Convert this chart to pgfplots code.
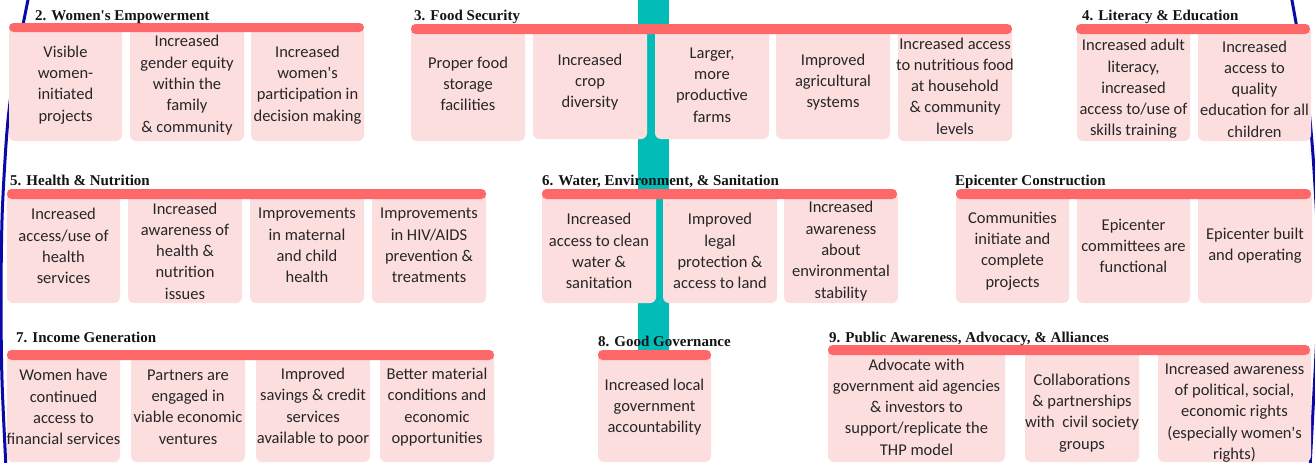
\documentclass[border=0pt]{standalone}
\usepackage{fontspec}
\setmainfont{Carlito}[Ligatures=TeXOff]
\newfontfamily\titlefont{Liberation Serif}[Ligatures=TeXOff]
\usepackage{pgfplots}
\pgfplotsset{compat=1.18}
\definecolor{boxc}{HTML}{FDDEDF}
\definecolor{barc}{HTML}{FF6868}
\definecolor{tealc}{HTML}{02BDB7}
\definecolor{bluec}{HTML}{0A0AA8}
\definecolor{textc}{HTML}{262626}
\definecolor{titlec}{HTML}{141414}
\tikzset{
  body/.style={align=center, inner sep=0pt, text=textc, font=\fontsize{16.5}{21.3}\selectfont},
  ttl/.style={anchor=base west, inner sep=0pt, text=titlec, font=\titlefont\bfseries\fontsize{15}{18}\selectfont},
}
% box: x1, x2, ytop, ybottom
\newcommand{\bx}[4]{\fill[boxc, rounded corners=6pt] (axis cs:#1,#3) rectangle (axis cs:#2,#4);}
\newcommand{\br}[4]{\fill[barc, rounded corners=4.5pt] (axis cs:#1,#3) rectangle (axis cs:#2,#4);}
\begin{document}
\begin{tikzpicture}
\begin{axis}[
  scale only axis, width=1315pt, height=463pt,
  xmin=0, xmax=1315, ymin=0, ymax=463, y dir=reverse,
  axis lines=none, clip=true,
]
% teal spine
\fill[tealc] (axis cs:638,0) rectangle (axis cs:669,352);
% blue outline arcs
\addplot[bluec, line width=3pt, smooth] coordinates {(29,-5) (20,40) (13,80) (8,120) (5,160) (2,220) (1,300) (2,380) (6,468)};
\addplot[bluec, line width=3pt, smooth] coordinates {(1291,-5) (1299,40) (1305,80) (1310,120) (1314,170) (1318,250) (1317,330) (1313,410) (1310,468)};

% ---- Group 2
\bx{9}{122}{26}{141}\bx{130}{244}{26}{141}\bx{251}{364}{26}{141}
\br{9}{364}{23}{32}
\node[ttl] at (axis cs:35,20) {2. Women's Empowerment};
\node[body] at (axis cs:65.5,85) {Visible\\women-\\initiated\\projects};
\node[body] at (axis cs:187,85) {Increased\\gender equity\\within the\\family\\\& community};
\node[body] at (axis cs:307.5,85) {Increased\\women's\\participation in\\decision making};

% ---- Group 3
\bx{411}{525}{27}{141}\bx{533}{647}{27}{139}\bx{655}{769}{27}{139}\bx{776}{890}{27}{139}\bx{898}{1012}{27}{141}
\br{411}{1012}{24}{34}
\node[ttl] at (axis cs:414,20) {3. Food Security};
\node[body] at (axis cs:468,84) {Proper food\\storage\\facilities};
\node[body] at (axis cs:590,82) {Increased\\crop\\diversity};
\node[body] at (axis cs:712,85) {Larger,\\more\\productive\\farms};
\node[body] at (axis cs:833,82) {Improved\\agricultural\\systems};
\node[body] at (axis cs:955,86) {Increased access\\to nutritious food\\at household\\\& community\\levels};

% ---- Group 4
\bx{1077}{1190}{27}{141}\bx{1198}{1311}{27}{141}
\br{1076}{1310}{24}{34}
\node[ttl] at (axis cs:1082,20) {4. Literacy \& Education};
\node[body] at (axis cs:1133.5,89) {Increased adult\\literacy,\\increased\\access to/use of\\skills training};
\node[body] at (axis cs:1254.5,89) {Increased\\access to\\quality\\education for all\\children};

% ---- Group 5
\bx{7}{120}{192}{303}\bx{128}{242}{192}{303}\bx{250}{364}{192}{303}\bx{372}{486}{192}{303}
\br{7}{486}{189}{199}
\node[ttl] at (axis cs:10,185) {5. Health \& Nutrition};
\node[body] at (axis cs:63.5,246) {Increased\\access/use of\\health\\services};
\node[body] at (axis cs:185,251) {Increased\\awareness of\\health \&\\nutrition\\issues};
\node[body] at (axis cs:307,245.5) {Improvements\\in maternal\\and child\\health};
\node[body] at (axis cs:429,245.5) {Improvements\\in HIV/AIDS\\prevention \&\\treatments};

% ---- Group 6
\bx{542}{656}{192}{303}\bx{663}{777}{192}{303}\bx{784}{898}{192}{303}
\br{542}{897}{189}{199}
\node[ttl] at (axis cs:542,185) {6. Water, Environment, \& Sanitation};
\node[body] at (axis cs:599,251) {Increased\\access to clean\\water \&\\sanitation};
\node[body] at (axis cs:720,251) {Improved\\legal\\protection \&\\access to land};
\node[body] at (axis cs:841,251) {Increased\\awareness\\about\\environmental\\stability};

% ---- Epicenter
\bx{956}{1069}{192}{303}\bx{1077}{1190}{192}{303}\bx{1198}{1312}{192}{303}
\br{956}{1311}{189}{199}
\node[ttl] at (axis cs:955,185) {Epicenter Construction};
\node[body] at (axis cs:1012.5,251) {Communities\\initiate and\\complete\\projects};
\node[body] at (axis cs:1133.5,246) {Epicenter\\committees are\\functional};
\node[body] at (axis cs:1255,246) {Epicenter built\\and operating};

% ---- Group 7
\bx{7}{120}{353}{462}\bx{131}{245}{353}{462}\bx{256}{370}{353}{462}\bx{380}{494}{353}{462}
\br{7}{494}{350}{360}
\node[ttl] at (axis cs:16,342) {7. Income Generation};
\node[body] at (axis cs:63.5,407) {Women have\\continued\\access to\\financial services};
\node[body] at (axis cs:188,407) {Partners are\\engaged in\\viable economic\\ventures};
\node[body] at (axis cs:313,407) {Improved\\savings \& credit\\services\\available to poor};
\node[body] at (axis cs:437,407) {Better material\\conditions and\\economic\\opportunities};

% ---- Group 8
\bx{598}{711}{353}{462}
\br{598}{711}{350}{360}
\node[ttl] at (axis cs:598,346) {8. Good Governance};
\node[body] at (axis cs:654.5,407) {Increased local\\government\\accountability};

% ---- Group 9
\bx{828}{1005}{348}{462}\bx{1025}{1139}{348}{462}\bx{1158}{1311}{348}{462}
\br{828}{1310}{345}{355}
\node[ttl] at (axis cs:829,342) {9. Public Awareness, Advocacy, \& Alliances};
\node[body] at (axis cs:916.5,407) {Advocate with\\government aid agencies\\\& investors to\\support/replicate the\\THP model};
\node[body] at (axis cs:1082,413) {Collaborations\\\& partnerships\\with\ \ civil society\\groups};
\node[body] at (axis cs:1234.5,412.5) {Increased awareness\\of political, social,\\economic rights\\(especially women's\\rights)};
\end{axis}
\end{tikzpicture}
\end{document}
